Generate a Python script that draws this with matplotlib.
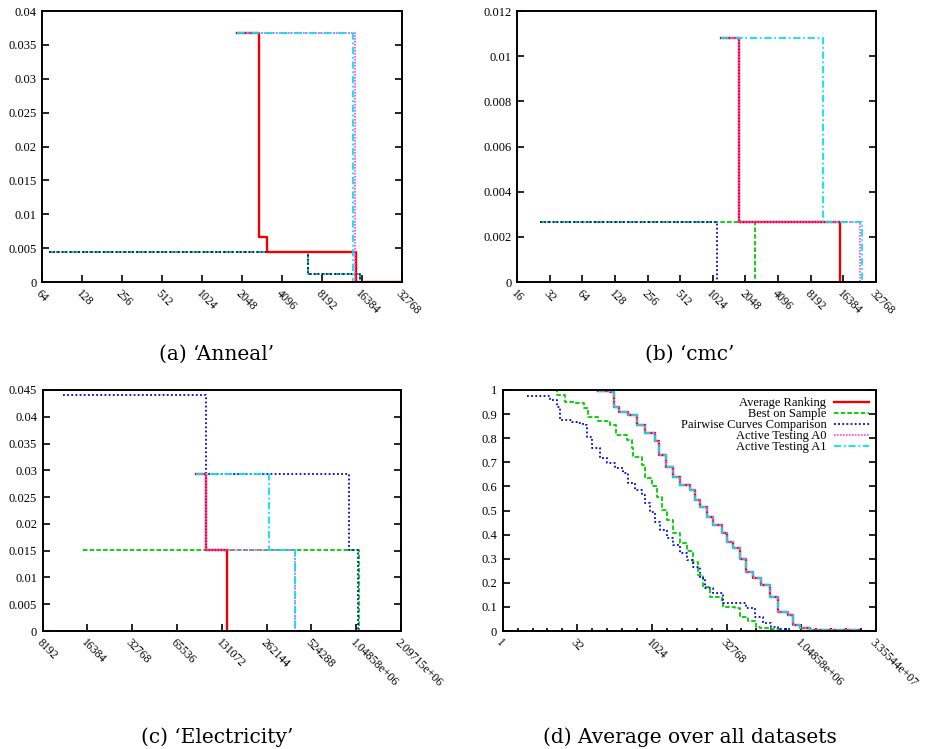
import matplotlib
matplotlib.use('Agg')
import matplotlib.pyplot as plt
from matplotlib.ticker import FixedLocator, NullFormatter

plt.rcParams['font.family'] = ['Liberation Serif', 'DejaVu Serif']

names = ['Average Ranking', 'Best on Sample', 'Pairwise Curves Comparison',
         'Active Testing A0', 'Active Testing A1']

# (a) Anneal
anneal_x = {
    'rank': [1870, 2760, 3190, 14760, 32768],
    'best': [72, 6430, 15800, 32768],
    'pcc':  [72, 6430, 15800, 32768],
    'a0':   [1870, 14600, 32768],
    'a1':   [1870, 13990, 32768],
}
anneal_y = {
    'rank': [0.0367, 0.0067, 0.0045, 0.0, 0.0],
    'best': [0.0045, 0.0012, 0.0, 0.0],
    'pcc':  [0.0045, 0.0012, 0.0, 0.0],
    'a0':   [0.0367, 0.0, 0.0],
    'a1':   [0.0367, 0.0, 0.0],
}

# (b) cmc
cmc_x = {
    'rank': [1210, 1800, 15200, 15200],
    'best': [26, 2500, 2500],
    'pcc':  [26, 1120, 1120],
    'a0':   [1210, 1800, 23300, 23300],
    'a1':   [1210, 10600, 24300, 24300],
}
cmc_y = {
    'rank': [0.0108, 0.00267, 0.0, 0.0],
    'best': [0.00267, 0.0, 0.0],
    'pcc':  [0.00267, 0.0, 0.0],
    'a0':   [0.0108, 0.00267, 0.0, 0.0],
    'a1':   [0.0108, 0.00267, 0.0, 0.0],
}

# (c) Electricity
elec_x = {
    'rank': [87700, 103000, 141000, 141000],
    'best': [15400, 1093000, 1093000],
    'pcc':  [11300, 102900, 937000, 1085000, 1085000],
    'a0':   [87700, 103000, 408000, 408000],
    'a1':   [87700, 273000, 408000, 408000],
}
elec_y = {
    'rank': [0.0294, 0.0152, 0.0, 0.0],
    'best': [0.0152, 0.0, 0.0],
    'pcc':  [0.0441, 0.0294, 0.0152, 0.0, 0.0],
    'a0':   [0.0294, 0.0152, 0.0, 0.0],
    'a1':   [0.0294, 0.0152, 0.0, 0.0],
}

# (d) average over all datasets, x given as log2 of the value
avg_log2x = {
    'at': [6.41, 7.19, 7.46, 7.81, 8.42, 8.97, 9.53, 10.2, 10.49, 10.94, 11.43,
           11.88, 12.54, 12.88, 13.21, 13.66, 14.11, 14.67, 15.0, 15.45, 15.89,
           16.34, 16.79, 17.34, 17.9, 18.46, 19.13, 19.46, 19.9, 20.58, 23.9],
    'best': [3.06, 3.62, 4.17, 4.84, 5.45, 5.74, 6.41, 7.19, 7.59, 8.3, 8.64,
             8.75, 9.31, 9.53, 9.98, 10.31, 10.65, 10.98, 11.43, 11.88, 12.32,
             12.77, 13.1, 13.44, 13.88, 14.67, 14.78, 15.56, 15.89, 16.45, 17.0,
             17.23, 18.0, 18.57, 23.9],
    'pcc': [1.61, 2.72, 3.17, 3.62, 3.84, 4.62, 4.96, 5.4, 5.63, 5.96, 6.52,
            6.96, 7.52, 8.08, 8.42, 8.86, 9.31, 9.53, 9.87, 10.2, 10.54, 10.98,
            11.43, 11.88, 12.32, 12.77, 13.21, 13.55, 14.11, 14.78, 15.78, 16.34,
            16.9, 17.46, 18.01, 18.46, 19.24, 23.9],
}
avg_y = {
    'at': [0.995, 0.993, 0.93, 0.91, 0.896, 0.855, 0.82, 0.79, 0.73, 0.68, 0.64,
           0.605, 0.585, 0.544, 0.516, 0.474, 0.44, 0.405, 0.37, 0.343, 0.30,
           0.246, 0.218, 0.19, 0.142, 0.08, 0.066, 0.025, 0.011, 0.004, 0.0],
    'best': [1.0, 0.98, 0.95, 0.945, 0.924, 0.89, 0.87, 0.855, 0.813, 0.793,
             0.758, 0.723, 0.689, 0.633, 0.6, 0.557, 0.502, 0.46, 0.405, 0.364,
             0.33, 0.288, 0.232, 0.184, 0.142, 0.115, 0.098, 0.094, 0.06, 0.043,
             0.018, 0.011, 0.007, 0.001, 0.0],
    'pcc': [0.975, 0.975, 0.958, 0.93, 0.875, 0.869, 0.862, 0.855, 0.806, 0.758,
            0.716, 0.696, 0.675, 0.654, 0.613, 0.585, 0.564, 0.53, 0.495, 0.454,
            0.419, 0.384, 0.357, 0.322, 0.295, 0.267, 0.219, 0.177, 0.156, 0.118,
            0.118, 0.094, 0.059, 0.035, 0.018, 0.007, 0.001, 0.0],
}

styles = {
    'best': dict(color='#00cc00', lw=1.3, ls=(0, (2.5, 1.2))),
    'pcc':  dict(color='#0000ee', lw=1.3, ls=(0, (1, 1.3))),
    'rank': dict(color='#ee0000', lw=1.7, ls='-'),
    'a0':   dict(color='#ff44ff', lw=1.2, ls=(0, (1, 0.8))),
    'a1':   dict(color='#00e5ee', lw=1.3, ls=(0, (4, 1.5, 1, 1.5))),
}
order = ['best', 'pcc', 'rank', 'a0', 'a1']
label_of = dict(zip(['rank', 'best', 'pcc', 'a0', 'a1'], names))
FS = 8.5

W, H = 925, 749
fig = plt.figure(figsize=(W / 100, H / 100), dpi=100)


def make_ax(left, right, top, bottom):
    return fig.add_axes([left / W, 1 - bottom / H, (right - left) / W, (bottom - top) / H])


def style_ax(ax, xmin, xmax, xticks, xlabels, ymax, ystep, ylabels, minor=None):
    ax.set_xscale('log', base=2)
    ax.set_xlim(xmin, xmax)
    ax.set_ylim(0, ymax)
    ax.xaxis.set_major_locator(FixedLocator(xticks))
    ax.set_xticklabels(xlabels, rotation=-45, ha='left', va='top',
                       rotation_mode='anchor', fontsize=FS)
    if minor is not None:
        ax.xaxis.set_minor_locator(FixedLocator(minor))
    else:
        ax.xaxis.set_minor_locator(FixedLocator([]))
    ax.xaxis.set_minor_formatter(NullFormatter())
    yt = [i * ystep for i in range(len(ylabels))]
    ax.set_yticks(yt)
    ax.set_yticklabels(ylabels, fontsize=FS + 0.5)
    ax.tick_params(axis='both', which='major', direction='in', length=5, width=1.2,
                   right=True, top=False, pad=4)
    ax.tick_params(axis='x', which='minor', direction='in', length=2.5, width=1.2)
    for s in ax.spines.values():
        s.set_linewidth(1.4)


def draw(ax, xs, ys):
    for k in order:
        if k in xs:
            ax.plot(xs[k], ys[k], drawstyle='steps-post', label=label_of[k], **styles[k])


# (a)
ax1 = make_ax(42.3, 401.7, 11, 282)
draw(ax1, anneal_x, anneal_y)
t = [64 * 2 ** i for i in range(10)]
style_ax(ax1, 64, 32768, t, [str(v) for v in t], 0.04, 0.005,
         ['0', '0.005', '0.01', '0.015', '0.02', '0.025', '0.03', '0.035', '0.04'])

# (b)
ax2 = make_ax(517.3, 875.7, 11, 282)
draw(ax2, cmc_x, cmc_y)
t = [16 * 2 ** i for i in range(12)]
style_ax(ax2, 16, 32768, t, [str(v) for v in t], 0.012, 0.002,
         ['0', '0.002', '0.004', '0.006', '0.008', '0.01', '0.012'])

# (c)
ax3 = make_ax(42.7, 401, 390, 631)
draw(ax3, elec_x, elec_y)
t = [8192 * 2 ** i for i in range(9)]
lab = [str(v) for v in t[:-2]] + ['1.04858e+06', '2.09715e+06']
style_ax(ax3, 8192, 2097152, t, lab, 0.045, 0.005,
         ['0', '0.005', '0.01', '0.015', '0.02', '0.025', '0.03', '0.035', '0.04', '0.045'])

# (d)
ax4 = make_ax(502.7, 875.7, 390, 631)
legend_order = ['rank', 'best', 'pcc', 'a0', 'a1']
handles = {}
for k, src in [('best', 'best'), ('pcc', 'pcc'), ('rank', 'at'), ('a0', 'at'), ('a1', 'at')]:
    xs = [2 ** v for v in avg_log2x[src]]
    handles[k], = ax4.plot(xs, avg_y[src], drawstyle='steps-post', label=label_of[k], **styles[k])
t = [2 ** (5 * i) for i in range(6)]
lab = ['1', '32', '1024', '32768', '1.04858e+06', '3.35544e+07']
style_ax(ax4, 1, 2 ** 25, t, lab, 1.0, 0.1,
         ['0', '0.1', '0.2', '0.3', '0.4', '0.5', '0.6', '0.7', '0.8', '0.9', '1'],
         minor=[2 ** i for i in range(26)])
leg = ax4.legend([handles[k] for k in legend_order], [label_of[k] for k in legend_order],
                 loc='upper right', bbox_to_anchor=(1.0, 1.0), markerfirst=False,
                 frameon=False, fontsize=FS + 0.5, handlelength=2.8, labelspacing=-0.08,
                 borderaxespad=0.35, borderpad=0.2, handletextpad=0.6)
for txt in leg.get_texts():
    txt.set_ha('right')

# captions
cap = dict(ha='center', va='center', fontsize=14.5, family=['DejaVu Serif'])
fig.text(217 / W, 1 - 354 / H, "(a) \u2018Anneal\u2019", **cap)
fig.text(690 / W, 1 - 354 / H, "(b) \u2018cmc\u2019", **cap)
fig.text(217 / W, 1 - 737 / H, "(c) \u2018Electricity\u2019", **cap)
fig.text(690 / W, 1 - 737 / H, "(d) Average over all datasets", **cap)

fig.savefig('out.png', dpi=100)
